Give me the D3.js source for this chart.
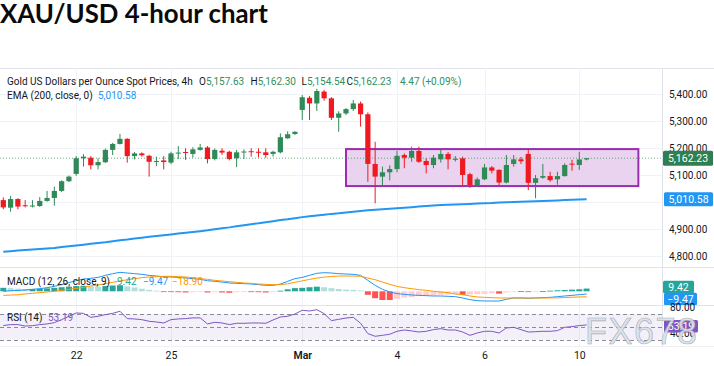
<!DOCTYPE html>
<html><head><meta charset="utf-8">
<script src="https://cdn.jsdelivr.net/npm/d3@7"></script>
<style>html,body{margin:0;padding:0;background:#fff;} svg{display:block;}</style>
</head><body><svg id="c" width="714" height="366"></svg>
<script>
const titleText = "XAU/USD 4-hour chart";
const dateTickIndex = [10, 23, 41, 54, 66, 79];
const dateTickLabels = ["22", "25", "Mar", "4", "6", "10"];
const priceTicks = [4800, 4900, 5000, 5100, 5200, 5300, 5400];
const priceLabelTicks = [4800, 4900, 5100, 5200, 5300, 5400];
const rsiTicks = [80, 40];
const rsiLevels = [70, 50, 30];

const openP = [5007,4979,5011,4988,4985,4985,5004,5015,5041,5077,5104,5162,5164,5136,5147,5193,5215,5234,5170,5180,5171,5150,5154,5146,5181,5185,5178,5193,5202,5159,5190,5186,5162,5185,5188,5186,5184,5178,5184,5236,5252,5341,5386,5365,5409,5384,5312,5328,5344,5365,5325,5141,5094,5110,5122,5174,5164,5189,5152,5137,5158,5178,5158,5162,5103,5063,5084,5128,5119,5072,5141,5158,5178,5071,5090,5096,5084,5096,5142,5137,5157.63];
const highP = [5017,5022,5014,5007,5007,5018,5041,5057,5080,5098,5170,5177,5170,5162,5198,5219,5252,5236,5185,5184,5175,5168,5170,5186,5207,5199,5203,5215,5207,5198,5199,5190,5193,5195,5199,5199,5199,5190,5254,5262,5262,5396,5393,5419,5415,5388,5336,5348,5378,5372,5332,5223,5131,5136,5190,5180,5205,5205,5162,5174,5193,5185,5170,5168,5108,5091,5141,5133,5121,5174,5174,5167,5195,5100,5141,5112,5112,5143,5156,5186,5162.30];
const lowP = [4973,4964,4973,4980,4980,4982,5001,4986,5037,5074,5097,5131,5121,5121,5145,5174,5213,5146,5158,5168,5094,5133,5121,5140,5159,5156,5164,5190,5143,5154,5175,5154,5129,5159,5168,5165,5164,5168,5180,5234,5248,5304,5304,5337,5375,5304,5260,5322,5337,5279,5075,4995,5063,5080,5110,5125,5149,5145,5106,5125,5146,5121,5150,5063,5052,5057,5081,5106,5063,5069,5131,5141,5044,5014,5086,5075,5064,5094,5116,5119,5154.54];
const closeP = [4980,5011,4983,4985,4987,5004,5015,5041,5077,5094,5162,5168,5136,5148,5193,5215,5234,5170,5180,5173,5149,5152,5148,5180,5183,5183,5195,5202,5159,5193,5183,5159,5184,5187,5185,5183,5174,5186,5240,5251,5260,5388,5365,5411,5384,5312,5328,5344,5365,5325,5141,5094,5110,5122,5171,5164,5189,5149,5137,5164,5178,5158,5160,5100,5063,5084,5128,5116,5072,5137,5158,5151,5071,5088,5096,5081,5096,5137,5140,5157.63,5162.23];
const ema200 = [4816,4818,4820,4822,4824,4826,4828,4830,4833,4836,4839,4842,4845,4848,4851,4855,4858,4861,4865,4868,4871,4874,4877,4880,4883,4886,4889,4892,4895,4899,4903,4906,4910,4914,4918,4921,4925,4929,4933,4936,4940,4944,4947,4950,4953,4956,4958,4961,4964,4967,4969,4971,4973,4975,4977,4979,4981,4983,4985,4987,4989,4990,4991,4992,4993,4994,4995,4996,4998,4999,5000,5001,5002,5003,5004,5005,5006,5007,5008,5009,5010.58];

const macdLine = [0,2,3,4.5,6.8,9,12.5,17,23,30,36.6,42.4,44.7,48,55,60.8,65.4,63,60.8,58.5,55,52.7,50.4,49.3,48,45.8,43.6,41.3,36.6,34.4,32,28.6,27.5,26.3,25.2,22.9,20.6,20.6,25,34.4,43.6,48,55,62,64.2,63,60.8,59.6,58.5,55,37.8,20.6,6.8,-2.4,-8,-10.5,-12.7,-13.9,-15,-16.2,-16.2,-17.3,-18.5,-23,-28.8,-32.3,-33.4,-33.4,-33.4,-27.7,-23.1,-23.1,-24.2,-23.1,-22,-20.8,-18.5,-16.2,-13.9,-11.6,-9.47];
const signalLine = [-14,-13,-12,-9,-7,-4.7,-2.4,0,3.3,6.8,10.2,13.7,18.3,21.7,26.3,30.9,35.5,40,43.6,47,49.3,50.4,51.6,51.6,50.4,49.3,47,43.6,41.3,37.8,35.5,33.2,30.9,28.6,27.5,25.2,24,22.9,23,26,31,36,41,45.5,49,51,52.5,52.7,52.7,51.6,45.8,40,32,24,17,12.5,9,5.6,3.3,0,-2.4,-4.7,-9.3,-11.6,-16.2,-19.6,-20.8,-22,-23.1,-23.1,-23.1,-23.1,-23.1,-23.1,-23,-22.8,-22.5,-21.5,-20.5,-19.6,-18.9];
const macdHist = [12,11,9,8,8,9,10,12,14,16,18,19,17,16,18,20,21,17,13,9,5,2,-2,-2,-3,-4,-3,-2,-4,-3,-4,-5,-3,-2,-2,-3,-4,-2,2,7,11,12,14,16,14,11,8,6,5,3,-12,-24,-30,-30,-26,-22,-20,-17,-16,-14,-12,-11,-10,-12,-11,-10,-9,-7,-8,-4,-1,0.5,-2,-0.5,1,2,3.5,4.6,5.7,6.9,9.42];
const rsi14 = [52.2,53.7,53.7,51.5,52,53.7,54.7,56.7,61.3,66.5,71.6,71,64.9,66.5,69,71,74.2,62.9,62.4,61.3,58.8,57.7,56.2,61.3,62.4,62.9,64,64,54.7,57.2,56.2,53.7,55.7,55.7,56.2,56.2,55.7,60.8,65.4,66.5,70,75.7,74.6,76.7,70.6,59.8,61.8,63.8,64.9,55.7,39.8,35.7,37.2,38.8,43.4,45.4,44,42.3,43.4,46,47.5,45.4,45.4,42.3,37.2,40.8,43.4,43.4,40.8,48.5,49.5,46,42.3,42.8,43.4,43.4,44.4,49.5,50.6,52.2,53.19];

const rangeBox = {startIndex: 47, endIndex: 87.1, top: 5196, bottom: 5059};
const lastPrice = 5162.23, lastEma = 5010.58, lastHist = 9.42, lastMacd = -9.47, lastSignal = -18.90, lastRsi = 53.19;
const legendMain = "Gold US Dollars per Ounce Spot Prices, 4h";
const legendOHLC = [["O","5,157.63"],["H","5,162.30"],["L","5,154.54"],["C","5,162.23"]];
const legendChange = "4.47 (+0.09%)";

// ---------- drawing ----------
const svg = d3.select("#c");
const W = 714, H = 366, plotRight = 662;
const mainTop = 68, mainBot = 267, macdBot = 305, rsiBot = 346;
const UP = "#2f8a57", DOWN = "#f0191f", TXT = "#131722", FONT = "Roboto, 'Noto Sans', sans-serif";
const LFS = 10;
const n = closeP.length;

const x = d3.scaleLinear().domain([0, 80]).range([3.3, 586.6]);
const y = d3.scaleLinear().domain([4800, 5400]).range([256, 94]);
const ym = d3.scaleLinear().domain([-40, 40]).range([302.9, 279.7]);
const yr = d3.scaleLinear().domain([30, 70]).range([340, 314]);

svg.append("rect").attr("width", W).attr("height", H).attr("fill", "#fff");
svg.append("text").attr("x", 0).attr("y", 23).text(titleText)
  .attr("font-family", "Lato, sans-serif").attr("font-weight", 700).attr("font-size", 25.8).attr("fill", "#0a0a0a");

const defs = svg.append("defs");
defs.append("clipPath").attr("id", "cm").append("rect").attr("x", 0).attr("y", mainTop).attr("width", plotRight).attr("height", mainBot - mainTop);
defs.append("clipPath").attr("id", "cmacd").append("rect").attr("x", 0).attr("y", mainBot).attr("width", W).attr("height", macdBot - mainBot);

// frame lines
const lineC = "#e0e3eb";
svg.append("line").attr("x1", 0).attr("x2", W).attr("y1", mainTop + .5).attr("y2", mainTop + .5).attr("stroke", lineC);
// grid
svg.append("g").selectAll("line").data(priceTicks).join("line")
  .attr("x1", 0).attr("x2", plotRight).attr("y1", d => Math.round(y(d)) + .5).attr("y2", d => Math.round(y(d)) + .5)
  .attr("stroke", "#f0f2f7");
svg.append("g").selectAll("line").data(dateTickIndex).join("line")
  .attr("x1", d => Math.round(x(d)) + .5).attr("x2", d => Math.round(x(d)) + .5).attr("y1", mainTop).attr("y2", rsiBot)
  .attr("stroke", "#f0f2f7");
[mainBot, macdBot].forEach(v => svg.append("line").attr("x1", 0).attr("x2", W).attr("y1", v + .5).attr("y2", v + .5).attr("stroke", lineC));
svg.append("line").attr("x1", plotRight + .5).attr("x2", plotRight + .5).attr("y1", mainTop).attr("y2", rsiBot).attr("stroke", lineC);
svg.append("line").attr("x1", 0).attr("x2", W).attr("y1", rsiBot + .5).attr("y2", rsiBot + .5).attr("stroke", "#eef0f4");

// range box
const gm = svg.append("g").attr("clip-path", "url(#cm)");
gm.append("rect")
  .attr("x", x(rangeBox.startIndex)).attr("y", y(rangeBox.top))
  .attr("width", x(rangeBox.endIndex) - x(rangeBox.startIndex)).attr("height", y(rangeBox.bottom) - y(rangeBox.top))
  .attr("fill", "#e9d3ee").attr("stroke", "#9b2db0").attr("stroke-width", 2);

// last price dotted line
svg.append("line").attr("x1", 0).attr("x2", plotRight).attr("y1", y(lastPrice)).attr("y2", y(lastPrice))
  .attr("stroke", UP).attr("stroke-dasharray", "1,2").attr("stroke-opacity", .7);

// EMA
gm.append("path").datum(ema200).attr("fill", "none").attr("stroke", "#2196f3").attr("stroke-width", 2)
  .attr("d", d3.line().x((d, i) => x(i)).y(d => y(d)));

// candles
const idx = d3.range(n);
const cg = gm.append("g");
cg.selectAll("line").data(idx).join("line")
  .attr("x1", i => x(i)).attr("x2", i => x(i)).attr("y1", i => y(highP[i])).attr("y2", i => y(lowP[i]))
  .attr("stroke", i => closeP[i] >= openP[i] ? UP : DOWN).attr("stroke-width", 1);
cg.selectAll("rect").data(idx).join("rect")
  .attr("x", i => x(i) - 2.6).attr("width", 5.2)
  .attr("y", i => y(Math.max(openP[i], closeP[i])))
  .attr("height", i => Math.max(1, Math.abs(y(openP[i]) - y(closeP[i]))))
  .attr("fill", i => closeP[i] >= openP[i] ? UP : DOWN);

// price axis
const pa = svg.append("g").attr("transform", "translate(666,0)")
  .call(d3.axisRight(y).tickValues(priceLabelTicks).tickSize(0).tickPadding(3).tickFormat(d3.format(",.2f")));
pa.select(".domain").remove();
pa.selectAll("text").attr("font-family", FONT).attr("font-size", 10).attr("fill", TXT);

function tag(cy, x0, w, h, fill, label) {
  svg.append("rect").attr("x", x0).attr("y", cy - h / 2).attr("width", w).attr("height", h).attr("rx", 1.5).attr("fill", fill);
  svg.append("text").attr("x", x0 + w / 2).attr("y", cy).attr("dy", "0.35em").attr("text-anchor", "middle")
    .attr("font-family", FONT).attr("font-size", 10.5).attr("fill", "#fff").text(label);
}
tag(y(lastPrice), 663, 50, 15, "#2f7f52", d3.format(",.2f")(lastPrice));
tag(y(lastEma), 664, 49, 14, "#2196f3", d3.format(",.2f")(lastEma));

// legend
const lg = svg.append("g").attr("font-family", FONT).attr("font-size", LFS);
lg.append("text").attr("x", 7).attr("y", 85).attr("fill", TXT).text(legendMain);
const ohlcX = [199, 250.5, 301.5, 346.5];
legendOHLC.forEach((d, k) => {
  const t = lg.append("text").attr("x", ohlcX[k]).attr("y", 85).attr("fill", TXT);
  t.append("tspan").text(d[0]);
  t.append("tspan").attr("fill", "#2f8f5e").text(d[1]);
});
lg.append("text").attr("x", 400).attr("y", 85).attr("fill", "#2f8f5e").text(legendChange);
lg.append("text").attr("x", 7).attr("y", 99).attr("fill", TXT).text("EMA (200, close, 0)");
lg.append("text").attr("x", 98).attr("y", 99).attr("fill", "#2196f3").text(d3.format(",.2f")(lastEma));

// MACD panel
const gmacd = svg.append("g").attr("clip-path", "url(#cmacd)");
gmacd.selectAll("rect").data(idx).join("rect")
  .attr("x", i => x(i) - 3).attr("width", 6)
  .attr("y", i => Math.min(ym(macdHist[i]), ym(0)))
  .attr("height", i => Math.max(0.8, Math.abs(ym(macdHist[i]) - ym(0))))
  .attr("fill", i => {
    const v = macdHist[i], p = i > 0 ? macdHist[i - 1] : v;
    if (v >= 0) return v >= p ? "#26a69a" : "#b2dfdb";
    return v <= p ? "#ff5252" : "#ffcdd2";
  });
gmacd.append("path").datum(macdLine).attr("fill", "none").attr("stroke", "#2196f3").attr("stroke-width", 1)
  .attr("d", d3.line().x((d, i) => x(i)).y(d => ym(d)));
gmacd.append("path").datum(signalLine).attr("fill", "none").attr("stroke", "#ff9800").attr("stroke-width", 1)
  .attr("d", d3.line().x((d, i) => x(i)).y(d => ym(d)));
const ml = svg.append("g").attr("font-family", FONT).attr("font-size", LFS);
ml.append("text").attr("x", 7).attr("y", 285).attr("fill", TXT).text("MACD (12, 26, close, 9)");
ml.append("text").attr("x", 117).attr("y", 285).attr("fill", "#26a69a").text(d3.format(".2f")(lastHist));
ml.append("text").attr("x", 143).attr("y", 285).attr("fill", "#2196f3").text(d3.format(".2f")(lastMacd));
ml.append("text").attr("x", 172).attr("y", 285).attr("fill", "#ff9800").text(d3.format(".2f")(lastSignal));
const mtags = svg.append("g").attr("clip-path", "url(#cmacd)");
function tag2(g, cy, x0, w, h, fill, label) {
  g.append("rect").attr("x", x0).attr("y", cy - h / 2).attr("width", w).attr("height", h).attr("rx", 1.5).attr("fill", fill);
  g.append("text").attr("x", x0 + w / 2).attr("y", cy).attr("dy", "0.35em").attr("text-anchor", "middle")
    .attr("font-family", FONT).attr("font-size", 10.5).attr("fill", "#fff").text(label);
}
tag2(mtags, ym(lastHist) - 1.6, 663, 31, 12.5, "#26a69a", d3.format(".2f")(lastHist));
tag2(mtags, ym(lastMacd) + 5, 664, 33, 12.5, "#2196f3", d3.format(".2f")(lastMacd));

// RSI panel
svg.append("rect").attr("x", 0).attr("width", plotRight).attr("y", yr(70)).attr("height", yr(30) - yr(70)).attr("fill", "rgba(126,87,194,0.09)");
svg.append("g").selectAll("line").data(rsiLevels).join("line")
  .attr("x1", 0).attr("x2", plotRight).attr("y1", d => Math.round(yr(d)) + .5).attr("y2", d => Math.round(yr(d)) + .5)
  .attr("stroke", "#8a8d96").attr("stroke-dasharray", "4,3").attr("stroke-width", 1);
svg.append("path").datum(rsi14).attr("fill", "none").attr("stroke", "#7e57c2").attr("stroke-width", 1)
  .attr("d", d3.line().x((d, i) => x(i)).y(d => yr(d)));
const rl = svg.append("g").attr("font-family", FONT).attr("font-size", LFS);
rl.append("text").attr("x", 7).attr("y", 320.5).attr("fill", TXT).text("RSI (14)");
rl.append("text").attr("x", 48).attr("y", 320.5).attr("fill", "#7e57c2").text(d3.format(".2f")(lastRsi));
const ra = svg.append("g").attr("transform", "translate(666,0)")
  .call(d3.axisRight(yr).tickValues(rsiTicks).tickSize(0).tickPadding(4).tickFormat(d3.format(".2f")));
ra.select(".domain").remove();
ra.selectAll("text").attr("font-family", FONT).attr("font-size", 10).attr("fill", TXT);
tag(yr(lastRsi) + 1.4, 664, 34, 12.5, "#7e57c2", d3.format(".2f")(lastRsi));

// time axis
const ta = svg.append("g").attr("transform", `translate(0,${rsiBot})`)
  .call(d3.axisBottom(x).tickValues(dateTickIndex).tickSize(0).tickPadding(6).tickFormat((d, k) => dateTickLabels[k]));
ta.select(".domain").remove();
ta.selectAll("text").attr("font-family", FONT).attr("font-size", 10.5).attr("fill", TXT)
  .attr("font-weight", (d, k) => dateTickLabels[k] === "Mar" ? 600 : 400);

// watermark
svg.append("text").attr("x", 585).attr("y", 344).text("FX678")
  .attr("font-family", "'Liberation Sans', Arial, sans-serif").attr("font-size", 36).attr("letter-spacing", 1.5)
  .attr("fill", "#d2e4f5").attr("fill-opacity", 0.9).attr("stroke", "#a89684").attr("stroke-width", 0.6).attr("stroke-opacity", 0.8);
</script></body></html>
